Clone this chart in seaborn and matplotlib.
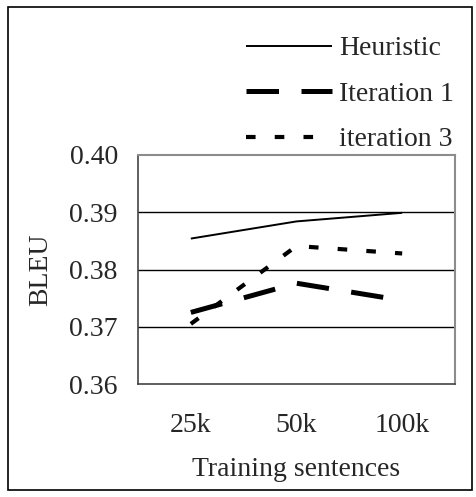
import numpy as np
import pandas as pd
import seaborn as sns
import matplotlib.pyplot as plt
from matplotlib.patches import Rectangle

# values
sizes = ["25k", "50k", "100k"]
heuristic = [0.3854, 0.3884, 0.3899]
iteration1 = [0.3725, 0.3776, 0.3746]
iteration3 = [0.3705, 0.3841, 0.3828]
series_names = ["Heuristic", "Iteration 1", "iteration 3"]
y_ticks = [0.36, 0.37, 0.38, 0.39, 0.40]

df = pd.DataFrame({
    "size": sizes * 3,
    "bleu": heuristic + iteration1 + iteration3,
    "series": [series_names[0]] * 3 + [series_names[1]] * 3 + [series_names[2]] * 3,
})

sns.set_style("white")
plt.rcParams['font.family'] = ['Liberation Serif', 'DejaVu Serif']
fs = 20

fig = plt.figure(figsize=(4.77, 4.97), dpi=100)
ax = fig.add_axes([138 / 477, 1 - 384 / 497, (455 - 138) / 477, (384 - 155) / 497])

styles = {
    "Heuristic": dict(lw=1.4, dashes=None),
    "Iteration 1": dict(lw=3.6, dashes=(6.5, 4.5)),
    "iteration 3": dict(lw=3.0, dashes=(2.3, 4.6)),
}

handles = []
for name in series_names:
    sub = df[df["series"] == name]
    sns.lineplot(data=sub, x="size", y="bleu", ax=ax, color="black", sort=False,
                 lw=styles[name]["lw"], legend=False)
    ln = ax.lines[-1]
    if styles[name]["dashes"] is not None:
        ln.set_dashes(styles[name]["dashes"])
    ln.set_solid_capstyle("butt")
    ln.set_dash_capstyle("butt")
    handles.append(ln)

ax.set_xlim(-0.5, 2.5)
ax.set_ylim(0.36, 0.40)
ax.set_yticks(y_ticks)
ax.set_yticklabels([f"{v:.2f}" for v in y_ticks], fontsize=fs)
ax.set_xticks([-0.5, 0.5, 1.5, 2.5])
ax.set_xticklabels([])
ax.set_xticks([0, 1, 2], minor=True)
ax.set_xticklabels(sizes, minor=True, fontsize=fs)
ax.tick_params(axis="x", which="minor", length=0, pad=21)
ax.tick_params(axis="x", which="major", length=4.5, width=1, direction="out", color="black")
ax.tick_params(axis="y", length=4.5, width=1, direction="out", color="black", pad=10)

for v in y_ticks[1:-1]:
    ax.axhline(v, color="black", lw=1.0, zorder=0)

for side in ["top", "right"]:
    ax.spines[side].set_color("#8c8c8c")
    ax.spines[side].set_linewidth(1.5)
for side in ["left", "bottom"]:
    ax.spines[side].set_color("#444444")
    ax.spines[side].set_linewidth(1.2)

ax.set_xlabel("Training sentences", fontsize=fs)
ax.set_ylabel("BLEU", fontsize=fs)
ax.xaxis.set_label_coords(0.5, -0.318)
ax.yaxis.set_label_coords(-0.267, 0.5)

fig.legend(handles=handles, labels=series_names, loc="upper left",
           bbox_to_anchor=(246 / 477, 1 - 36 / 497), frameon=False, fontsize=fs,
           handlelength=3.1, handletextpad=0.25, labelspacing=0.72, borderpad=0,
           borderaxespad=0)

fig.patches.append(Rectangle((8 / 477, 1 - 490 / 497), 464 / 477, 483 / 497,
                             transform=fig.transFigure, fill=False, edgecolor="black",
                             lw=1.2))

fig.savefig("out.png", dpi=100)
